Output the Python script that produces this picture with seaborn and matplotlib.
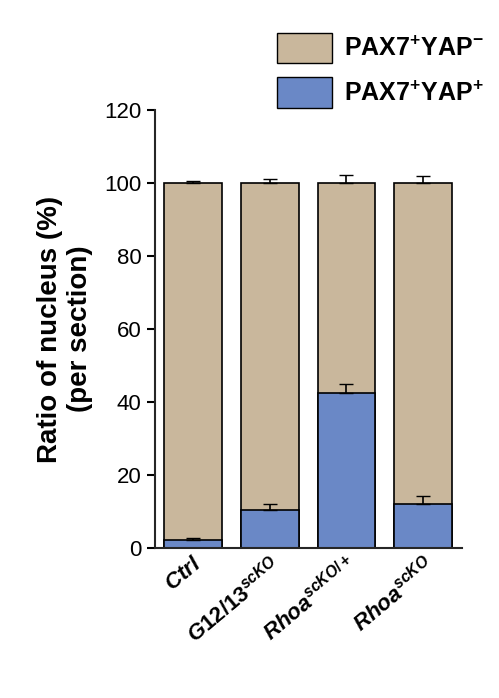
import matplotlib
matplotlib.use("Agg")
import matplotlib.pyplot as plt
import seaborn as sns
import pandas as pd
from matplotlib.patches import Patch

sns.set_style("ticks")
plt.rcParams['font.family'] = ['Liberation Sans', 'DejaVu Sans']
plt.rcParams['mathtext.fontset'] = 'custom'
plt.rcParams['mathtext.it'] = 'Liberation Sans:italic:bold'
plt.rcParams['mathtext.rm'] = 'Liberation Sans:bold'
plt.rcParams['mathtext.bf'] = 'Liberation Sans:bold'
plt.rcParams['text.color'] = 'black'
plt.rcParams['axes.labelcolor'] = 'black'
plt.rcParams['xtick.color'] = 'black'
plt.rcParams['ytick.color'] = 'black'

groups = [r'$Ctrl$', r'$G12/13^{scKO}$', r'$Rhoa^{scKO/+}$', r'$Rhoa^{scKO}$']
yap_pos = [2.2, 10.5, 42.5, 12.0]
yap_pos_err = [0.6, 1.5, 2.5, 2.3]
total = [100, 100, 100, 100]
total_err = [0.5, 1.2, 2.3, 2.0]

tan = '#c9b79c'
blue = '#6a88c6'

df = pd.DataFrame({'g': groups, 'pos': yap_pos, 'tot': total})
fig = plt.figure(figsize=(4.99, 6.98), dpi=100)
ax = fig.add_axes([0.31, 0.215, 0.615, 0.627])
sns.barplot(data=df, x='g', y='tot', color=tan, saturation=1, edgecolor='black', linewidth=1.2, width=0.75, ax=ax)
sns.barplot(data=df, x='g', y='pos', color=blue, saturation=1, edgecolor='black', linewidth=1.2, width=0.75, ax=ax)
ax.errorbar(range(4), total, yerr=[[0]*4, total_err], fmt='none', ecolor='black', capsize=5, elinewidth=1.2)
ax.errorbar(range(4), yap_pos, yerr=[[0]*4, yap_pos_err], fmt='none', ecolor='black', capsize=5, elinewidth=1.2)

ax.set_ylim(0, 120)
ax.set_xlim(-0.5, 3.5)
ax.set_yticks(range(0, 121, 20))
ax.tick_params(axis='y', labelsize=16, width=1.5, length=6)
ax.tick_params(axis='x', labelsize=16, width=0, length=0)
plt.setp(ax.get_xticklabels(), rotation=40, ha='right', rotation_mode='anchor')
ax.set_xlabel('')
ax.set_ylabel('Ratio of nucleus (%)\n(per section)', fontsize=20, fontweight='bold', labelpad=8)
sns.despine(ax=ax)
for s in ['left', 'bottom']:
    ax.spines[s].set_linewidth(1.5)

handles = [Patch(facecolor=tan, edgecolor='black'), Patch(facecolor=blue, edgecolor='black')]
labels = [r'PAX7$^{+}$YAP$^{-}$', r'PAX7$^{+}$YAP$^{+}$']
fig.legend(handles, labels, loc='upper left', bbox_to_anchor=(0.51, 0.985), frameon=False,
           prop={'size': 18, 'weight': 'bold'}, handlelength=2.2, handleheight=1.5, labelspacing=0.55,
           handletextpad=0.5)
fig.savefig('out.png', dpi=100)
